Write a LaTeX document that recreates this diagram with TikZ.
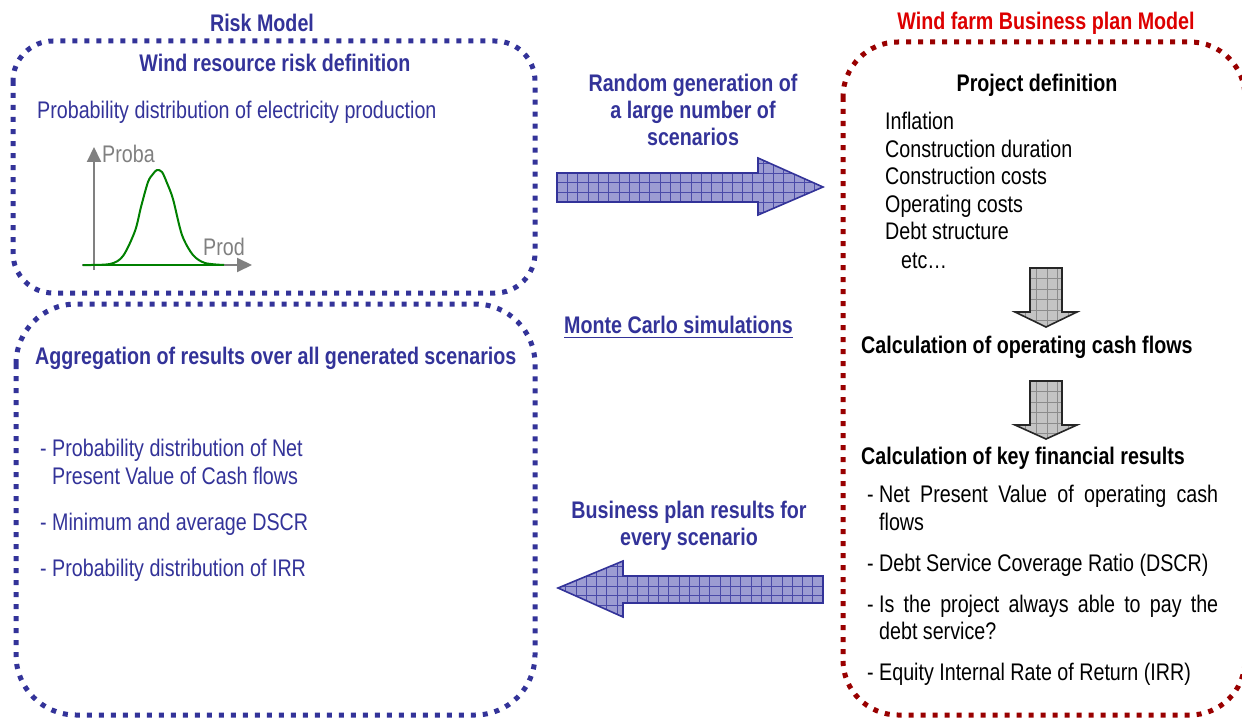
\documentclass[tikz,border=0pt]{standalone}
\usepackage{fontspec}
\setmainfont{Liberation Sans}[FakeStretch=0.82]
\usetikzlibrary{arrows.meta}
\definecolor{rmblue}{HTML}{333399}
\definecolor{bpred}{HTML}{990000}
\definecolor{bptitle}{HTML}{DD0000}
\definecolor{arrowfill}{HTML}{9C9CD2}
\definecolor{gridblue}{HTML}{4A4AA8}
\definecolor{grayfill}{HTML}{C4C4C4}
\definecolor{gridgray}{HTML}{8C8C8C}
\definecolor{axisgray}{HTML}{808080}
\definecolor{curvegreen}{HTML}{008000}
\tikzset{
  txt/.style={inner sep=0pt, font=\fontsize{24bp}{27.5bp}\selectfont},
  btxt/.style={inner sep=0pt, font=\fontsize{24bp}{27.5bp}\selectfont\bfseries},
  dotbox/.style={line width=5bp, dash pattern=on 5bp off 7bp},
  bluearrow/.style={draw=rmblue, line width=1.6bp, line join=miter},
  grayarrow/.style={draw=black!85, line width=1.6bp, line join=miter},
}
\begin{document}
\begin{tikzpicture}[x=1bp,y=-1bp]
\useasboundingbox (0,0) rectangle (1242,718);
\fill[white] (0,0) rectangle (1242,718);

% ---------- boxes ----------
\draw[dotbox, rmblue, rounded corners=40bp] (13,41) rectangle (535,293);
\draw[dotbox, rmblue, rounded corners=60bp] (16,304) rectangle (535,715);
\draw[dotbox, bpred, rounded corners=55bp] (843,42) rectangle (1245,715);

% ---------- risk model ----------
\node[btxt, text=rmblue, anchor=base] (rmtitle) at (262,32) {Risk Model};
\node[btxt, text=rmblue, anchor=base] (wrrd) at (275,72) {Wind resource risk definition};
\node[txt, text=rmblue, anchor=base west] (pdep) at (37,119) {Probability distribution of electricity production};

% graph
\coordinate (yb) at (94,270);
\coordinate (yt) at (94,147);
\coordinate (xl) at (82,265);
\coordinate (xr) at (252,265);
\draw[axisgray, line width=2bp, -{Triangle[length=15bp,width=14bp]}] (yb) -- (yt);
\draw[axisgray, line width=2bp, -{Triangle[length=15bp,width=14bp]}] (xl) -- (xr);
\draw[curvegreen, line width=2.2bp] (83,265) -- (224,265);
\draw[curvegreen, line width=2bp, line join=round] plot[smooth, tension=0.5] coordinates {(83,265) (110,264) (123,256) (135,231) (141,207) (148,182) (153,174) (157,170) (162,172) (167,183) (173,199) (182,235) (193,255) (205,263) (224,265)};
\node[txt, text=axisgray, anchor=base west] (proba) at (102,163) {Proba};
\node[txt, text=axisgray, anchor=base west] (prod) at (203,255) {Prod};

% ---------- top arrow ----------
\node[btxt, text=rmblue, anchor=base] (rg1) at (693,92) {Random generation of};
\node[btxt, text=rmblue, anchor=base] (rg2) at (693,119) {a large number of};
\node[btxt, text=rmblue, anchor=base] (rg3) at (693,146) {scenarios};
\begin{scope}
  \path[clip] (557,173) -- (758,173) -- (758,158) -- (823,187) -- (758,215) -- (758,202) -- (557,202) -- cycle;
  \fill[arrowfill] (550,150) rectangle (830,220);
  \foreach \i in {0,...,26} \draw[gridblue, line width=0.5bp] (557+10.3*\i,150) -- (557+10.3*\i,220);
  \foreach \j in {0,...,7} \draw[gridblue, line width=0.5bp] (550,153.6+9.7*\j) -- (830,153.6+9.7*\j);
\end{scope}
\draw[bluearrow] (557,173) -- (758,173) -- (758,158) -- (823,187) -- (758,215) -- (758,202) -- (557,202) -- cycle;

% ---------- monte carlo ----------
\node[btxt, text=rmblue, anchor=base west] (mc) at (564,333) {Monte Carlo simulations};
\draw[rmblue, line width=1.8bp] ([yshift=-4.5bp]mc.base west) -- ([yshift=-4.5bp]mc.base east);

% ---------- bottom arrow ----------
\node[btxt, text=rmblue, anchor=base] (bp1) at (689,518) {Business plan results for};
\node[btxt, text=rmblue, anchor=base] (bp2) at (689,545) {every scenario};
\begin{scope}
  \path[clip] (823,576) -- (623,576) -- (623,561) -- (558,588) -- (623,617) -- (623,603) -- (823,603) -- cycle;
  \fill[arrowfill] (550,555) rectangle (830,620);
  \foreach \i in {0,...,26} \draw[gridblue, line width=0.5bp] (823-10.3*\i,555) -- (823-10.3*\i,620);
  \foreach \j in {0,...,7} \draw[gridblue, line width=0.5bp] (550,556.5+9.8*\j) -- (830,556.5+9.8*\j);
\end{scope}
\draw[bluearrow] (823,576) -- (623,576) -- (623,561) -- (558,588) -- (623,617) -- (623,603) -- (823,603) -- cycle;

% ---------- aggregation box ----------
\node[btxt, text=rmblue, anchor=base west] (agg) at (35,364) {Aggregation of results over all generated scenarios};
\node[txt, text=rmblue, anchor=base west] (a1d) at (40,456) {-};
\node[txt, text=rmblue, anchor=base west] (a1) at (52,456) {Probability distribution of Net};
\node[txt, text=rmblue, anchor=base west] (a1b) at (52,484) {Present Value of Cash flows};
\node[txt, text=rmblue, anchor=base west] (a2d) at (40,530) {-};
\node[txt, text=rmblue, anchor=base west] (a2) at (52,530) {Minimum and average DSCR};
\node[txt, text=rmblue, anchor=base west] (a3d) at (40,576) {-};
\node[txt, text=rmblue, anchor=base west] (a3) at (52,576) {Probability distribution of IRR};

% ---------- business plan model ----------
\node[btxt, text=bptitle, anchor=base] (bptit) at (1046,30) {Wind farm Business plan Model};
\node[btxt, anchor=base] (pdef) at (1037,92) {Project definition};
\node[txt, anchor=base west] (l1) at (885,130) {Inflation};
\node[txt, anchor=base west] (l2) at (885,158) {Construction duration};
\node[txt, anchor=base west] (l3) at (885,185) {Construction costs};
\node[txt, anchor=base west] (l4) at (885,213) {Operating costs};
\node[txt, anchor=base west] (l5) at (885,240) {Debt structure};
\node[txt, anchor=base west] (l6) at (901,268) {etc\ldots};

\begin{scope}
  \path[clip] (1030,268) -- (1062,268) -- (1062,312) -- (1077,312) -- (1046,327) -- (1015,312) -- (1030,312) -- cycle;
  \fill[grayfill] (1010,265) rectangle (1080,330);
  \foreach \i in {0,...,6} \draw[gridgray, line width=0.6bp] (1015+10.6*\i,265) -- (1015+10.6*\i,330);
  \foreach \j in {0,...,6} \draw[gridgray, line width=0.6bp] (1010,268+10.5*\j) -- (1080,268+10.5*\j);
\end{scope}
\draw[grayarrow] (1030,268) -- (1062,268) -- (1062,312) -- (1077,312) -- (1046,327) -- (1015,312) -- (1030,312) -- cycle;

\node[btxt, anchor=base west] (cocf) at (861,353) {Calculation of operating cash flows};

\begin{scope}
  \path[clip] (1030,381) -- (1062,381) -- (1062,425) -- (1077,425) -- (1046,439) -- (1015,425) -- (1030,425) -- cycle;
  \fill[grayfill] (1010,378) rectangle (1080,442);
  \foreach \i in {0,...,6} \draw[gridgray, line width=0.6bp] (1015+10.6*\i,378) -- (1015+10.6*\i,442);
  \foreach \j in {0,...,6} \draw[gridgray, line width=0.6bp] (1010,381+10.5*\j) -- (1080,381+10.5*\j);
\end{scope}
\draw[grayarrow] (1030,381) -- (1062,381) -- (1062,425) -- (1077,425) -- (1046,439) -- (1015,425) -- (1030,425) -- cycle;

\node[btxt, anchor=base west] (ckfr) at (861,464) {Calculation of key financial results};
\node[txt, anchor=base west] (r1d) at (867,502) {-};
\node[txt, anchor=base west] (r1) at (879,502) {\makebox[339bp][s]{Net Present Value of operating cash}};
\node[txt, anchor=base west] (r1b) at (879,530) {flows};
\node[txt, anchor=base west] (r2d) at (867,571) {-};
\node[txt, anchor=base west] (r2) at (879,571) {Debt Service Coverage Ratio (DSCR)};
\node[txt, anchor=base west] (r3d) at (867,612) {-};
\node[txt, anchor=base west] (r3) at (879,612) {\makebox[339bp][s]{Is the project always able to pay the}};
\node[txt, anchor=base west] (r3b) at (879,639) {debt service?};
\node[txt, anchor=base west] (r4d) at (867,680) {-};
\node[txt, anchor=base west] (r4) at (879,680) {Equity Internal Rate of Return (IRR)};
\end{tikzpicture}
\end{document}
